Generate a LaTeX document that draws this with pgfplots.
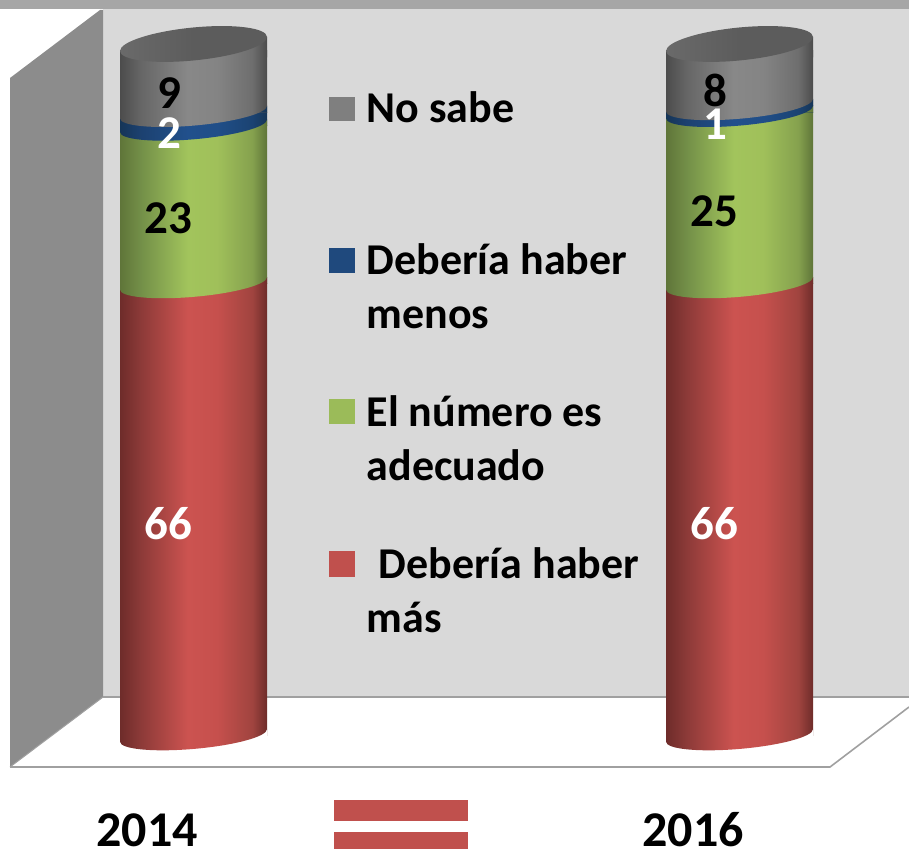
\documentclass[border=0pt]{standalone}
\usepackage{pgfplots}
\pgfplotsset{compat=1.18}
\usepackage{fontspec}
\setmainfont{Carlito}
\definecolor{rA}{HTML}{6E2C2A}\definecolor{rB}{HTML}{8C3A38}\definecolor{rC}{HTML}{CC5350}\definecolor{rD}{HTML}{C6504D}\definecolor{rE}{HTML}{A0443F}
\definecolor{gA}{HTML}{5F7539}\definecolor{gB}{HTML}{738F48}\definecolor{gC}{HTML}{A2C45C}\definecolor{gD}{HTML}{A0C05A}\definecolor{gE}{HTML}{85A14E}
\definecolor{bA}{HTML}{163557}\definecolor{bB}{HTML}{1C4170}\definecolor{bC}{HTML}{21508C}\definecolor{bD}{HTML}{204E88}\definecolor{bE}{HTML}{1B4372}
\definecolor{kA}{HTML}{4C4C4C}\definecolor{kB}{HTML}{666666}\definecolor{kC}{HTML}{888888}\definecolor{kD}{HTML}{848484}\definecolor{kE}{HTML}{6E6E6E}
\definecolor{tA}{HTML}{6A6A6A}\definecolor{tB}{HTML}{5C5C5C}
\definecolor{wall}{HTML}{D9D9D9}\definecolor{side}{HTML}{8C8C8C}\definecolor{band}{HTML}{A6A6A6}\definecolor{edge}{HTML}{A0A0A0}
\definecolor{legR}{HTML}{C0504D}\definecolor{legG}{HTML}{9BBB59}\definecolor{legB}{HTML}{1F497D}\definecolor{legK}{HTML}{7F7F7F}
\newcommand\cyl[6]{\pgfdeclarehorizontalshading{#1}{100bp}{color(0bp)=(#2);color(25bp)=(#2);color(32bp)=(#3);color(48bp)=(#4);color(58bp)=(#5);color(70bp)=(#6);color(75bp)=(#2);color(100bp)=(#2)}}
\cyl{cylR}{rA}{rB}{rC}{rD}{rE}
\cyl{cylG}{gA}{gB}{gC}{gD}{gE}
\cyl{cylB}{bA}{bB}{bC}{bD}{bE}
\cyl{cylK}{kA}{kB}{kC}{kD}{kE}
\pgfdeclarehorizontalshading{cylT}{100bp}{color(0bp)=(tA);color(25bp)=(tA);color(50bp)=(tB);color(75bp)=(tB);color(100bp)=(tB)}
% #1 mark name, #2 style of the part below the join (right corner), #3 shading of the segment above the join
\newcommand\capmark[3]{\pgfdeclareplotmark{#1}{%
  \path[draw=none,#2] (-73.5pt,0pt) -- (-73.5pt,0pt) (0pt,0pt) -- (73.5pt,6.25pt) -- (73.5pt,-0.4pt) -- (0pt,-0.4pt) -- cycle;
  \path[draw=none,shade,shading=#3,shading angle=0]
  (-73.5pt,-6.25pt) -- (-73.5pt,0.4pt) -- (0pt,0.4pt) -- (73.5pt,6.25pt) -- cycle;
  \path[draw=none,shade,shading=#3,shading angle=0]
  (-73.5pt,-6.25pt) .. controls (-73.5pt,1.21pt) and (-40.6pt,10.05pt) .. (0pt,13.5pt)
  .. controls (40.6pt,16.95pt) and (73.5pt,13.71pt) .. (73.5pt,6.25pt)
  .. controls (73.5pt,-1.21pt) and (40.6pt,-10.05pt) .. (0pt,-13.5pt)
  .. controls (-40.6pt,-16.95pt) and (-73.5pt,-13.71pt) .. (-73.5pt,-6.25pt) -- cycle;}}
\capmark{capR}{fill=white}{cylR}
\capmark{capG}{shade,shading=cylR,shading angle=0}{cylG}
\capmark{capB}{shade,shading=cylG,shading angle=0}{cylB}
\capmark{capK}{shade,shading=cylB,shading angle=0}{cylK}
% the lid stands 6.5 above the 100 level: slant 0.095, half-height 16.5
\pgfdeclareplotmark{capT}{%
  \path[draw=none,shade,shading=cylK,shading angle=0] (-73.5pt,-7pt) -- (73.5pt,-7pt) -- (73.5pt,13.5pt) -- (-73.5pt,-0.5pt) -- cycle;
  \path[draw=none,shade,shading=cylT,shading angle=0]
  (-73.5pt,-0.48pt) .. controls (-73.5pt,8.63pt) and (-40.6pt,19.14pt) .. (0pt,23pt)
  .. controls (40.6pt,26.86pt) and (73.5pt,22.59pt) .. (73.5pt,13.48pt)
  .. controls (73.5pt,4.37pt) and (40.6pt,-6.14pt) .. (0pt,-10pt)
  .. controls (-40.6pt,-13.86pt) and (-73.5pt,-9.59pt) .. (-73.5pt,-0.48pt) -- cycle;}
\newcommand\lab[4]{\node[text=#4,font=\fontsize{#3}{#3}\selectfont\bfseries,inner sep=0pt] at #1 {#2};}
\pgfplotsset{cyl axis/.style={
  at={(0pt,0pt)},anchor=south west,scale only axis,
  width=909pt,height=849pt,
  xmin=0,xmax=909,
  ymin=-16.58,ymax=107.37,
  hide axis,clip=false,
  ybar stacked,bar width=147pt,stacked ignores zero=false,reverse stacked plots=false},
  lid/.style={sharp plot,only marks,mark=#1},
  seg/.style={draw=none,shade,shading=#1,shading angle=0}}
\begin{document}
\begin{tikzpicture}[x=1pt,y=1pt]
\useasboundingbox (0,0) rectangle (909,849);
\begin{scope}[y=-1pt,yshift=849pt]
\fill[band] (0,0) rectangle (909,9);
\fill[wall] (103,9) rectangle (909,697);
\fill[side] (100,10) -- (10,78) -- (10,767) -- (103,697) -- (103,10) -- cycle;
\draw[edge,line width=1.6pt] (10,767) -- (830,767) -- (909,707);
\draw[edge,line width=1.6pt] (103,697) -- (909,697);
\draw[edge,line width=1pt] (10,767) -- (103,697);
\fill[legR] (334,800) rectangle (468,821);
\fill[legR] (334,832) rectangle (468,849);
\end{scope}
% 2014
\begin{axis}[cyl axis]
\addplot[seg=cylR] coordinates {(193.5,66)};
\addplot[seg=cylG] coordinates {(193.5,23)};
\addplot[seg=cylB] coordinates {(193.5,2)};
\addplot[seg=cylK] coordinates {(193.5,9)};
\end{axis}
\begin{axis}[cyl axis]
\addplot[lid=capR] coordinates {(193.5,0)};
\addplot[lid=capG] coordinates {(193.5,66)};
\addplot[lid=capB] coordinates {(193.5,23)};
\addplot[lid=capK] coordinates {(193.5,2)};
\addplot[lid=capT] coordinates {(193.5,9)};
\end{axis}
% 2016
\begin{axis}[cyl axis]
\addplot[seg=cylR] coordinates {(739.5,66)};
\addplot[seg=cylG] coordinates {(739.5,25)};
\addplot[seg=cylB] coordinates {(739.5,1)};
\addplot[seg=cylK] coordinates {(739.5,8)};
\end{axis}
\begin{axis}[cyl axis]
\addplot[lid=capR] coordinates {(739.5,0)};
\addplot[lid=capG] coordinates {(739.5,66)};
\addplot[lid=capB] coordinates {(739.5,25)};
\addplot[lid=capK] coordinates {(739.5,1)};
\addplot[lid=capT] coordinates {(739.5,8)};
\end{axis}
\begin{scope}[y=-1pt,yshift=849pt]
\lab{(169,93)}{9}{47pt}{black}
\lab{(169,133)}{2}{47pt}{white}
\lab{(168,218)}{23}{47pt}{black}
\lab{(168,524)}{66}{47pt}{white}
\lab{(715,90)}{8}{47pt}{black}
\lab{(715,124)}{1}{47pt}{white}
\lab{(714,211)}{25}{47pt}{black}
\lab{(714,524)}{66}{47pt}{white}
\lab{(147,830)}{2014}{50pt}{black}
\lab{(693,830)}{2016}{50pt}{black}
\fill[legK] (329,97) rectangle (355,121);
\fill[legB] (329,248) rectangle (355,273);
\fill[legG] (329,399) rectangle (355,424);
\fill[legR] (329,551) rectangle (355,577);
\newcommand\leg[2]{\node[anchor=base west,inner sep=0pt,font=\fontsize{44pt}{44pt}\selectfont\bfseries] at #1 {#2};}
\leg{(366.5,122.5)}{No sabe}
\leg{(366.5,274.5)}{Debería haber}
\leg{(366.5,328.5)}{menos}
\leg{(366.5,426.5)}{El número es}
\leg{(366.5,480.5)}{adecuado}
\leg{(378.5,578.5)}{Debería haber}
\leg{(366.5,632.5)}{más}
\end{scope}
\end{tikzpicture}
\end{document}
